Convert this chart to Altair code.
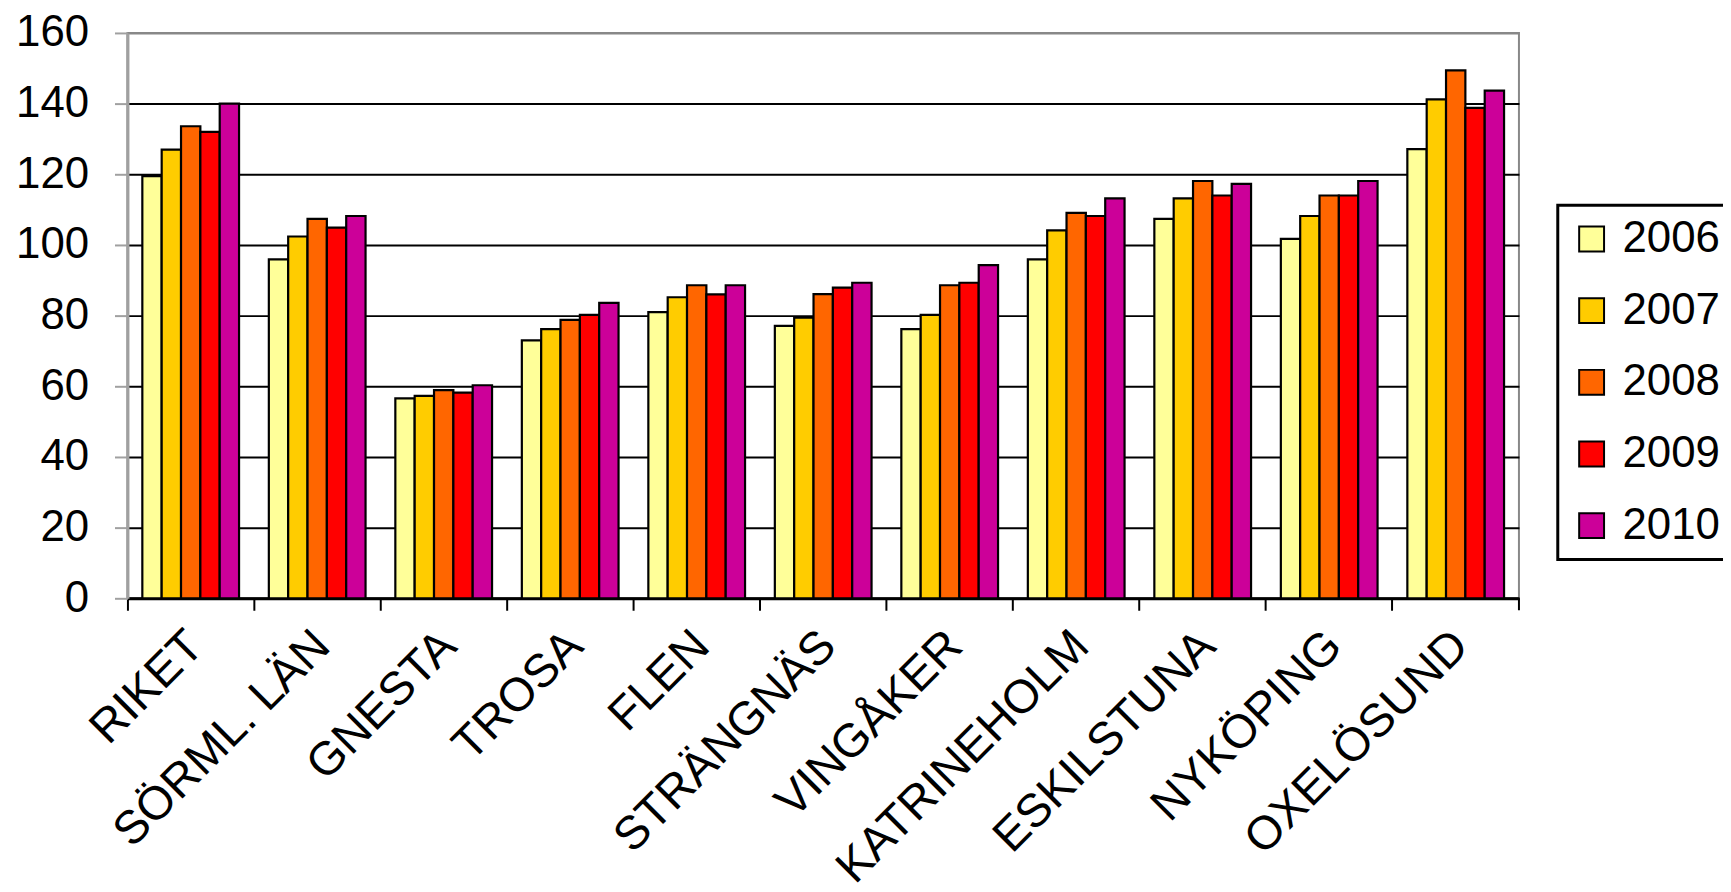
import altair as alt
import pandas as pd

categories = ["RIKET", "SÖRML. LÄN", "GNESTA", "TROSA", "FLEN", "STRÄNGNÄS",
              "VINGÅKER", "KATRINEHOLM", "ESKILSTUNA", "NYKÖPING", "OXELÖSUND"]
years = ["2006", "2007", "2008", "2009", "2010"]
v2006 = [119.5, 95.9, 56.6, 73.0, 81.0, 77.1, 76.2, 95.9, 107.4, 101.7, 127.1]
v2007 = [127.0, 102.4, 57.3, 76.2, 85.2, 79.4, 80.2, 104.1, 113.2, 108.2, 141.2]
v2008 = [133.6, 107.4, 58.9, 78.8, 88.6, 86.1, 88.6, 109.1, 118.1, 114.0, 149.4]
v2009 = [132.0, 104.9, 58.2, 80.2, 86.0, 87.9, 89.3, 108.2, 114.0, 114.0, 138.8]
v2010 = [140.0, 108.2, 60.3, 83.6, 88.6, 89.3, 94.3, 113.2, 117.3, 118.1, 143.7]
colors = ["#FFFF99", "#FFCC00", "#FF6600", "#FF0000", "#CC0099"]
y_ticks = [0, 20, 40, 60, 80, 100, 120, 140, 160]

series = [v2006, v2007, v2008, v2009, v2010]
rows = []
for yr, vals in zip(years, series):
    for c, v in zip(categories, vals):
        rows.append({"kommun": c, "year": yr, "value": v})
df = pd.DataFrame(rows)

W, H = 1398, 568
FONT = "Liberation Sans"

bars = alt.Chart(df).mark_bar(stroke="black", strokeWidth=2.2).encode(
    x=alt.X("kommun:N", sort=categories, title=None,
            scale=alt.Scale(paddingInner=0, paddingOuter=0),
            axis=alt.Axis(labelAngle=-45, labelAlign="right", labelBaseline="top",
                          labelFontSize=47, labelFont=FONT, labelColor="black",
                          labelPadding=12, labelOffset=-11, labelLimit=600,
                          labelOverlap=False, labelBound=False,
                          bandPosition=0, tickColor="black", tickWidth=2, tickSize=12,
                          domainColor="black", domainWidth=3, grid=False)),
    xOffset=alt.XOffset("year:N", sort=years,
                        scale=alt.Scale(paddingInner=0, paddingOuter=0.77)),
    y=alt.Y("value:Q", title=None,
            scale=alt.Scale(domain=[0, 160], nice=False),
            axis=alt.Axis(values=y_ticks, labelFontSize=44, labelFont=FONT,
                          labelColor="black", labelPadding=26,
                          tickColor="#A0A0A0", tickWidth=2, tickSize=13,
                          domainColor="#A0A0A0", domainWidth=3,
                          grid=True,
                          gridColor={"condition": {"test": "datum.value === 160", "value": "#888888"},
                                     "value": "black"},
                          gridWidth=2)),
    color=alt.Color("year:N", sort=years, title=None,
                    scale=alt.Scale(domain=years, range=colors),
                    legend=alt.Legend(orient="none", legendX=1437, legendY=173,
                                      symbolType="square", symbolSize=625,
                                      symbolStrokeColor="black", symbolStrokeWidth=2,
                                      labelFontSize=44, labelFont=FONT, labelColor="black",
                                      labelOffset=9, rowPadding=28, padding=12,
                                      strokeColor="black", fillColor="white")),
)

end_tick = alt.Chart(alt.Data(values=[{}])).mark_rule(color="black", strokeWidth=2).encode(
    x=alt.value(W), y=alt.value(H), y2=alt.value(H + 12)
)

chart = alt.layer(bars, end_tick).properties(
    width=W, height=H,
    background="white",
    autosize=alt.AutoSizeParams(type="none"),
    padding={"left": 120, "top": 23, "right": 205, "bottom": 293},
).configure_view(stroke="#888888", strokeWidth=2
).configure_legend(strokeColor="black", strokeWidth=3)

chart.save("out.html", embed_options={"renderer": "svg", "actions": False})
